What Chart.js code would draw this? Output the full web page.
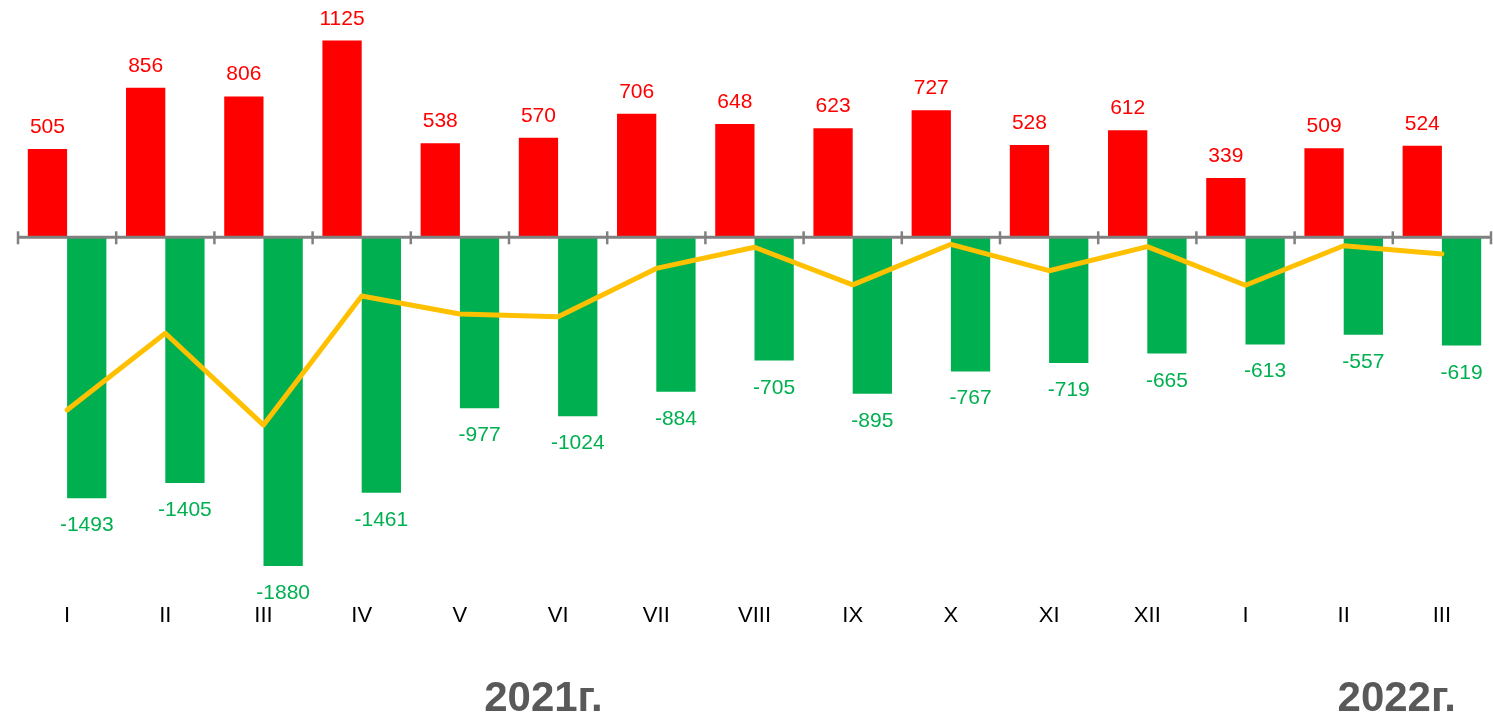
<!DOCTYPE html>
<html lang="ru">
<head>
    <meta charset="UTF-8">
    <title>Естественное движение населения</title>
    <style>
        body {
            margin: 0;
            background: #ffffff;
            font-family: "Liberation Sans", Arial, sans-serif;
        }
        .chart-container {
            position: relative;
            width: 1493px;
            height: 715px;
        }
    </style>
    <script src="https://cdn.jsdelivr.net/npm/chart.js"></script>
</head>
<body>
    <div class="chart-container">
        <canvas id="mainChart"></canvas>
    </div>
    <script>
        // data
        const months = ['I', 'II', 'III', 'IV', 'V', 'VI', 'VII', 'VIII', 'IX', 'X', 'XI', 'XII', 'I', 'II', 'III'];
        const births = [505, 856, 806, 1125, 538, 570, 706, 648, 623, 727, 528, 612, 339, 509, 524];
        const deaths = [-1493, -1405, -1880, -1461, -977, -1024, -884, -705, -895, -767, -719, -665, -613, -557, -619];
        const naturalChange = [-988, -549, -1074, -336, -439, -454, -178, -57, -272, -40, -191, -53, -274, -48, -95];
        const years = ['2021г.', '2022г.'];

        Chart.defaults.font.family = '"Liberation Sans", Arial, sans-serif';

        // gray zero line with tick marks, drawn over the bars but under the line
        const zeroAxis = {
            id: 'zeroAxis',
            beforeDatasetDraw(chart, args) {
                if (args.meta.type !== 'line') return;
                const ctx = chart.ctx;
                const x = chart.scales.x;
                const y0 = chart.scales.y.getPixelForValue(0);
                const left = chart.chartArea.left;
                const right = chart.chartArea.right;
                ctx.save();
                ctx.strokeStyle = '#808080';
                ctx.lineWidth = 3;
                ctx.beginPath();
                ctx.moveTo(left, y0);
                ctx.lineTo(right, y0);
                ctx.stroke();
                ctx.lineWidth = 2.5;
                const step = (right - left) / x.ticks.length;
                for (let i = 0; i <= x.ticks.length; i++) {
                    const px = left + step * i;
                    ctx.beginPath();
                    ctx.moveTo(px, y0 - 6);
                    ctx.lineTo(px, y0 + 7);
                    ctx.stroke();
                }
                ctx.restore();
            }
        };

        // value labels above red bars and below green bars, plus the year captions
        const valueLabels = {
            id: 'valueLabels',
            afterDatasetsDraw(chart) {
                const ctx = chart.ctx;
                ctx.save();
                ctx.font = '21px "Liberation Sans", Arial, sans-serif';
                ctx.textAlign = 'center';
                ctx.textBaseline = 'alphabetic';

                chart.getDatasetMeta(0).data.forEach((bar, i) => {
                    ctx.fillStyle = '#FF0000';
                    ctx.fillText(births[i], bar.x, bar.y - 16);
                });
                chart.getDatasetMeta(1).data.forEach((bar, i) => {
                    ctx.fillStyle = '#00B050';
                    ctx.fillText(deaths[i], bar.x, bar.y + 33);
                });

                const yearPos = [4.85, 13.54];
                ctx.font = 'bold 42px "Liberation Sans", Arial, sans-serif';
                ctx.fillStyle = '#595959';
                years.forEach((label, i) => {
                    ctx.fillText(label, chart.scales.x.getPixelForValue(yearPos[i]), 711);
                });
                ctx.restore();
            }
        };

        new Chart(document.getElementById('mainChart'), {
            data: {
                labels: months,
                datasets: [
                    {
                        type: 'bar',
                        label: 'Родившиеся',
                        data: births,
                        backgroundColor: '#FF0000',
                        categoryPercentage: 0.8,
                        barPercentage: 1.0,
                        order: 1
                    },
                    {
                        type: 'bar',
                        label: 'Умершие',
                        data: deaths,
                        backgroundColor: '#00B050',
                        categoryPercentage: 0.8,
                        barPercentage: 1.0,
                        order: 1
                    },
                    {
                        type: 'line',
                        label: 'Естественный прирост',
                        data: naturalChange,
                        borderColor: '#FFC000',
                        borderWidth: 5,
                        borderCapStyle: 'round',
                        borderJoinStyle: 'round',
                        pointRadius: 0,
                        tension: 0,
                        order: 0
                    }
                ]
            },
            options: {
                responsive: true,
                maintainAspectRatio: false,
                animation: false,
                layout: {
                    padding: { left: 18, right: 2, top: 10, bottom: 0 }
                },
                plugins: {
                    legend: { display: false },
                    tooltip: { enabled: false }
                },
                scales: {
                    x: {
                        grid: { display: false, drawTicks: false },
                        border: { display: false },
                        ticks: {
                            color: '#000000',
                            font: { size: 22 },
                            padding: 16,
                            autoSkip: false,
                            maxRotation: 0
                        },
                        afterFit(scale) {
                            scale.height = 128;
                        }
                    },
                    y: {
                        display: false,
                        min: -2000,
                        max: 1300
                    }
                }
            },
            plugins: [zeroAxis, valueLabels]
        });
    </script>
</body>
</html>
